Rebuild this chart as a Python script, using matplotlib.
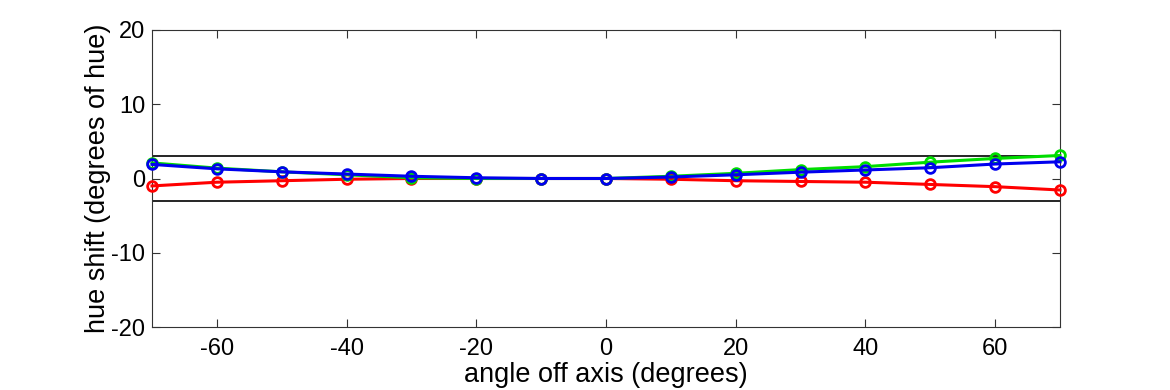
import matplotlib
matplotlib.use("Agg")
import matplotlib.pyplot as plt

angles = [-70, -60, -50, -40, -30, -20, -10, 0, 10, 20, 30, 40, 50, 60, 70]
red = [-1.0, -0.5, -0.3, -0.1, 0.0, 0.0, 0.0, 0.0, -0.1, -0.3, -0.4, -0.5, -0.8, -1.1, -1.55]
green = [2.1, 1.4, 0.9, 0.5, 0.1, 0.0, 0.0, 0.0, 0.3, 0.7, 1.2, 1.6, 2.2, 2.7, 3.1]
blue = [1.9, 1.3, 0.9, 0.6, 0.3, 0.1, 0.0, 0.0, 0.2, 0.5, 0.85, 1.15, 1.45, 1.95, 2.25]
threshold = 3
xticks = [-60, -40, -20, 0, 20, 40, 60]
yticks = [-20, -10, 0, 10, 20]

plt.rcParams['font.family'] = ['Liberation Sans', 'DejaVu Sans']
plt.rcParams['axes.unicode_minus'] = False

fig = plt.figure(figsize=(11.7, 3.9), dpi=100)
ax = fig.add_axes([152/1170, 1 - 327/390, (1060-152)/1170, (327-30)/390])

ax.axhline(threshold, color='black', lw=1.2)
ax.axhline(-threshold, color='black', lw=1.2)
for vals, col in [(red, '#ff0000'), (green, '#00dd00'), (blue, '#0000ee')]:
    ax.plot(angles, vals, color=col, lw=2.2, marker='o', markersize=7,
            markerfacecolor='none', markeredgewidth=2, markeredgecolor=col,
            clip_on=False, zorder=3)

ax.set_xlim(-70, 70)
ax.set_ylim(-20, 20)
ax.set_xticks(xticks)
ax.set_yticks(yticks)
ax.tick_params(direction='in', top=True, right=True, labelsize=17, length=6, width=0.8,
               color='#333333')
ax.tick_params(axis='x', pad=8)
ax.tick_params(axis='y', pad=5)
for s in ax.spines.values():
    s.set_linewidth(0.8)
    s.set_color('#333333')
ax.set_xlabel('angle off axis (degrees)', fontsize=19.5, labelpad=1)
ax.set_ylabel('hue shift (degrees of hue)', fontsize=19.5, labelpad=0)

fig.savefig('out.png', dpi=100)
